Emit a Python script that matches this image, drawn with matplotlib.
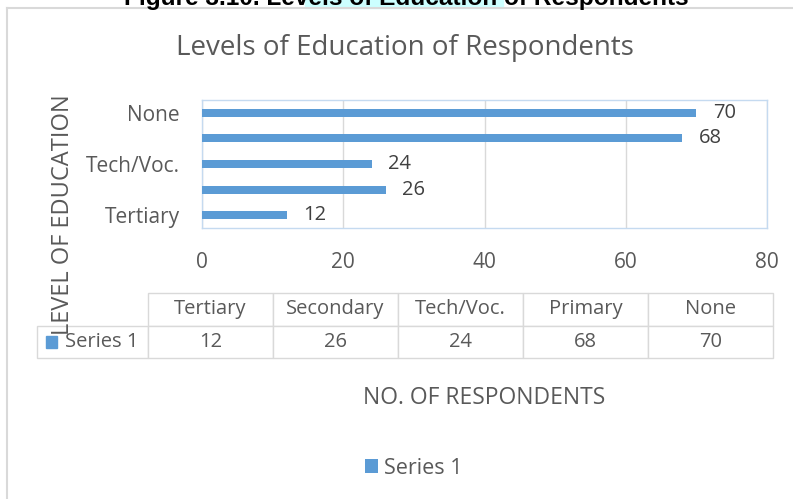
import matplotlib
matplotlib.use('Agg')
import matplotlib.pyplot as plt
from matplotlib.lines import Line2D
from matplotlib.patches import Rectangle

# survey counts, bottom-to-top order of the bar chart
levels = ['Tertiary', 'Secondary', 'Tech/Voc.', 'Primary', 'None']
respondents = [12, 26, 24, 68, 70]
series_name = 'Series 1'
x_ticks = [0, 20, 40, 60, 80]

BLUE = '#5B9BD5'
GREY_TXT = '#595959'
GRID = '#D9D9D9'
FONT = 'Open Sans'

plt.rcParams['font.family'] = [FONT, 'DejaVu Sans']

W, H = 793, 499
fig = plt.figure(figsize=(W / 100, H / 100), dpi=100)

def fx(px):
    return px / W

def fy(py):
    return 1 - py / H

ax = fig.add_axes([fx(202), fy(228), fx(767) - fx(202), fy(100) - fy(228)])

pos = list(range(len(levels)))
bars = ax.barh(pos, respondents, height=0.31, color=BLUE, zorder=3)
ax.bar_label(bars, padding=12, fontsize=14.5, color='#404040')

ax.set_xlim(0, 80)
ax.set_ylim(-0.5, len(levels) - 0.5)
ax.set_xticks(x_ticks)
ax.set_xticklabels([str(t) for t in x_ticks])
ax.set_yticks(pos)
# only every other category fits on the axis
ax.set_yticklabels([lv if i % 2 == 0 else '' for i, lv in enumerate(levels)])
ax.tick_params(length=0, labelsize=15, colors=GREY_TXT)
ax.tick_params(axis='x', pad=17)
ax.tick_params(axis='y', pad=16)
ax.grid(axis='x', color=GRID, lw=1, zorder=0)
for s in ax.spines.values():
    s.set_color('#C5DAF0')
    s.set_linewidth(1)

# data table under the chart
cell_text = [[''] + levels, [series_name] + [str(v) for v in respondents]]
col_w = [111] + [125] * len(levels)
tot = sum(col_w)
tbl = ax.table(cellText=cell_text, colWidths=[c / tot for c in col_w],
               cellLoc='center',
               bbox=[(37 - 202) / 565, (228 - 358) / 128, tot / 565, 65 / 128])
tbl.auto_set_font_size(False)
for (r, c), cell in tbl.get_celld().items():
    cell.set_edgecolor(GRID)
    cell.set_linewidth(1)
    cell.get_text().set_fontsize(14.5)
    cell.get_text().set_color(GREY_TXT)
    if r == 0 and c == 0:
        cell.visible_edges = ''
    if r == 1 and c == 0:
        # leave room for the legend key
        cell._loc = 'left'
        cell.PAD = 0.25
        cell.get_text().set_ha('left')
fig.add_artist(Rectangle((fx(46), fy(348)), fx(11), 12 / H, transform=fig.transFigure,
                         color=BLUE, zorder=10))

# titles
fig.text(fx(405), fy(48), 'Levels of Education of Respondents', ha='center', va='center',
         fontsize=20, color=GREY_TXT)
fig.text(fx(484), fy(398), 'NO. OF RESPONDENTS', ha='center', va='center',
         fontsize=16.5, color=GREY_TXT)
fig.text(fx(63), fy(215), 'LEVEL OF EDUCATION', ha='center', va='center', rotation=90,
         fontsize=17, color=GREY_TXT, zorder=1)

# legend
fig.legend([bars], [series_name], loc='center', bbox_to_anchor=(fx(414), fy(468)),
           frameon=False, fontsize=15.5, handlelength=0.6, handleheight=0.6,
           handletextpad=0.3, labelcolor=GREY_TXT)

# chart border
fig.add_artist(Line2D([fx(7), 1], [fy(8), fy(8)], color=GRID, lw=1.5))
fig.add_artist(Line2D([fx(7), fx(7)], [fy(8), 0], color=GRID, lw=1.5))

# figure caption above the chart (cropped at the top edge)
fig.add_artist(Rectangle((fx(305), fy(8)), fx(503) - fx(305), 20 / H,
                         transform=fig.transFigure, color='#CCFFFF', zorder=0))
fig.text(fx(406), fy(4.5), 'Figure 3.10. Levels of Education of Respondents', ha='center',
         va='baseline', fontsize=17.6, fontweight='bold', family='Liberation Sans',
         color='black')

fig.savefig('out.png', dpi=100)
